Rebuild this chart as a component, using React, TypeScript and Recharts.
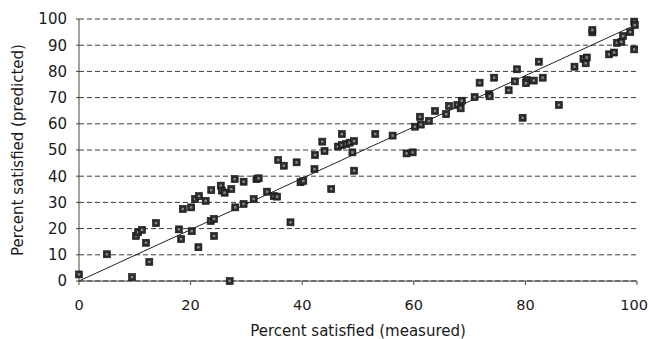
import React from 'react';
import {
  ScatterChart,
  Scatter,
  XAxis,
  YAxis,
  CartesianGrid,
  ReferenceLine,
} from 'recharts';

// measured vs predicted
const measured = [
  0, 5.0, 9.5, 10.2, 10.6, 11.3, 12.0, 12.6, 13.8, 17.9, 18.3, 18.6, 20.1, 20.2, 20.8, 21.4, 21.5,
  22.7, 23.6, 24.2, 23.7, 24.2, 25.4, 25.6, 26.1, 27.3, 27.0, 28.0, 27.9, 29.5, 29.5, 31.3, 31.8,
  32.2, 33.7, 34.9, 35.5, 35.7, 36.7, 37.9, 39.0, 39.7, 40.2, 42.2, 42.3, 43.6, 44.0, 45.2, 46.4,
  47.1, 47.1, 47.9, 48.5, 49.3, 49.0, 49.3, 53.1, 56.2, 58.7, 59.8, 60.2, 61.1, 61.25, 62.7, 63.8,
  65.8, 66.3, 67.8, 68.4, 68.6, 70.9, 71.8, 73.5, 73.6, 74.4, 77.0, 78.1, 78.5, 79.5, 80.2, 80.1,
  81.5, 82.4, 83.1, 86.0, 88.8, 90.4, 90.8, 91.0, 92.0, 92.0, 95.0, 95.9, 96.4, 97.2, 97.5, 98.8,
  99.5, 99.5, 99.6,
];
const predicted = [
  2.5, 10.2, 1.5, 17.2, 18.6, 19.5, 14.6, 7.3, 22.1, 19.7, 16.0, 27.5, 28.1, 19.0, 31.3, 12.9, 32.4,
  30.6, 22.9, 23.7, 34.7, 17.2, 36.4, 34.5, 33.7, 35.1, 0, 28.1, 38.9, 29.4, 37.9, 31.3, 38.9,
  39.2, 34.1, 32.4, 32.2, 46.2, 44.0, 22.4, 45.3, 37.7, 38.2, 42.7, 48.1, 53.2, 49.6, 35.1, 51.3,
  56.1, 51.9, 52.3, 52.8, 53.4, 49.1, 42.1, 56.1, 55.5, 48.7, 49.1, 58.9, 62.7, 59.7, 61.1, 64.9,
  63.7, 66.8, 67.2, 65.9, 68.8, 70.2, 75.7, 71.3, 70.5, 77.6, 72.8, 76.2, 80.8, 62.3, 76.7, 75.5,
  76.5, 83.7, 77.6, 67.2, 81.8, 84.8, 83.1, 85.3, 94.9, 95.8, 86.5, 87.2, 90.9, 91.3, 93.5, 95.0,
  88.4, 99.0, 97.7,
];

const xTicks = [0, 20, 40, 60, 80, 100];
const yTicks = [0, 10, 20, 30, 40, 50, 60, 70, 80, 90, 100];

const fitLine = [
  { x: 0, y: 0 },
  { x: 100, y: 98 },
];

const points = measured.map((x, i) => ({ x, y: predicted[i] }));

const font = 'DejaVu Sans, sans-serif';

const SquareMarker = (props: any) => {
  const { cx, cy } = props;
  if (cx == null || cy == null) return null;
  return (
    <g>
      <rect x={cx - 3.5} y={cy - 3.5} width={7} height={7} fill="#2b2b2b" stroke="#111" strokeWidth={0.6} />
      <rect x={cx - 1.2} y={cy - 1.2} width={2.4} height={2.4} fill="#8a8a8a" />
    </g>
  );
};

// last label sits right at the page edge, keep it inside
const XTick = (props: any) => {
  const { x, y, payload } = props;
  const last = payload.value === xTicks[xTicks.length - 1];
  return (
    <text
      x={last ? 648 : x}
      y={y}
      dy="0.71em"
      textAnchor={last ? 'end' : 'middle'}
      fill="#1a1a1a"
      fontSize={14.5}
      fontFamily={font}
    >
      {payload.value}
    </text>
  );
};

const App = () => {
  return (
    <div style={{ position: 'absolute', left: 0, top: 0, background: '#fff' }}>
      <ScatterChart
        width={649}
        height={339}
        margin={{ top: 19, right: 12, bottom: 0, left: 0 }}
      >
        <CartesianGrid
          horizontal
          vertical={false}
          strokeDasharray="5 3"
          stroke="#3c3c3c"
          strokeWidth={1}
        />
        <XAxis
          type="number"
          dataKey="x"
          domain={[0, 100]}
          ticks={xTicks}
          height={58}
          tickSize={4}
          tickMargin={15}
          axisLine={{ stroke: '#444' }}
          tickLine={{ stroke: '#444' }}
          tick={<XTick />}
          label={{
            value: 'Percent satisfied (measured)',
            position: 'insideBottom',
            offset: 3,
            style: { fill: '#1a1a1a', fontSize: 15, fontFamily: font },
          }}
        />
        <YAxis
          type="number"
          dataKey="y"
          domain={[0, 100]}
          ticks={yTicks}
          width={79}
          tickSize={3}
          tickMargin={9}
          axisLine={{ stroke: '#444' }}
          tickLine={{ stroke: '#444' }}
          tick={{ fill: '#1a1a1a', fontSize: 15, fontFamily: font }}
          label={{
            value: 'Percent satisfied (predicted)',
            angle: -90,
            position: 'insideLeft',
            offset: 18,
            style: { textAnchor: 'middle', fill: '#1a1a1a', fontSize: 15, fontFamily: font },
          }}
        />
        <ReferenceLine segment={fitLine} stroke="#222" strokeWidth={1} />
        <Scatter data={points} shape={<SquareMarker />} isAnimationActive={false} />
      </ScatterChart>
    </div>
  );
};

export default App;
